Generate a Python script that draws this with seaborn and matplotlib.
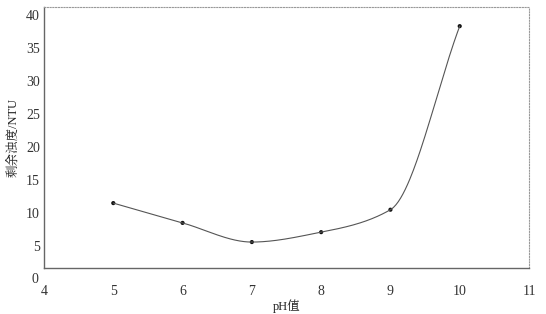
import numpy as np
import matplotlib
matplotlib.use("Agg")
import matplotlib.pyplot as plt
import seaborn as sns
import pandas as pd

ph = [5, 6, 7, 8, 9, 10]
turbidity = [11.5, 8.5, 5.6, 7.1, 10.5, 38.3]
x_ticks = [4, 5, 6, 7, 8, 9, 10, 11]
y_ticks = [5, 10, 15, 20, 25, 30, 35, 40]
x_label = "pH值"
y_label = "剩余浊度/NTU"

sns.set_style("white")
plt.rcParams['font.family'] = ['Liberation Serif', 'Noto Serif CJK SC', 'Noto Sans CJK SC']


def pchip(x, y, xs):
    x = np.asarray(x, float); y = np.asarray(y, float)
    h = np.diff(x); d = np.diff(y) / h
    n = len(x); m = np.zeros(n)
    for k in range(1, n - 1):
        if d[k - 1] * d[k] > 0:
            w1 = 2 * h[k] + h[k - 1]; w2 = h[k] + 2 * h[k - 1]
            m[k] = (w1 + w2) / (w1 / d[k - 1] + w2 / d[k])
    m[0] = d[0]; m[-1] = d[-1]
    out = np.empty_like(xs)
    for i, xv in enumerate(xs):
        k = min(np.searchsorted(x, xv, side='right') - 1, n - 2)
        t = (xv - x[k]) / h[k]
        h00 = 2 * t**3 - 3 * t**2 + 1; h10 = t**3 - 2 * t**2 + t
        h01 = -2 * t**3 + 3 * t**2; h11 = t**3 - t**2
        out[i] = h00 * y[k] + h10 * h[k] * m[k] + h01 * y[k + 1] + h11 * h[k] * m[k + 1]
    return out

xs = np.linspace(ph[0], ph[-1], 300)
curve = pd.DataFrame({"x": xs, "y": pchip(ph, turbidity, xs)})
pts = pd.DataFrame({"x": ph, "y": turbidity})

fig = plt.figure(figsize=(5.46, 3.14), dpi=100)
ax = fig.add_axes([44 / 546, 1 - 268 / 314, (529 - 44) / 546, (268 - 7) / 314])
sns.lineplot(data=curve, x="x", y="y", ax=ax, color="#555555", linewidth=0.8)
sns.scatterplot(data=pts, x="x", y="y", ax=ax, color="#111111", s=9, edgecolor="none")

ax.set_xlim(4, 11)
ax.set_ylim(1.67, 41.2)
ax.set_xticks(x_ticks)
ax.set_yticks(y_ticks)
ax.tick_params(axis='x', labelsize=10, colors="#333333", length=0, pad=12)
ax.tick_params(axis='y', labelsize=10, colors="#333333", length=0, pad=3)
ax.text(-0.012, 0, "0", transform=ax.get_yaxis_transform(), ha="right", va="center",
        fontsize=10, color="#333333", clip_on=False)
ax.set_xlabel(x_label, fontsize=9, color="#222222", labelpad=1)
ax.set_ylabel(y_label, fontsize=9, color="#222222", labelpad=5)
for s in ["left", "bottom"]:
    ax.spines[s].set_color("#666666"); ax.spines[s].set_linewidth(1.0)
for s in ["top", "right"]:
    ax.spines[s].set_color("#999999"); ax.spines[s].set_linewidth(0.8)
    ax.spines[s].set_linestyle((0, (1, 1.5)))
ax.grid(False)
fig.savefig("out.png", dpi=100)
